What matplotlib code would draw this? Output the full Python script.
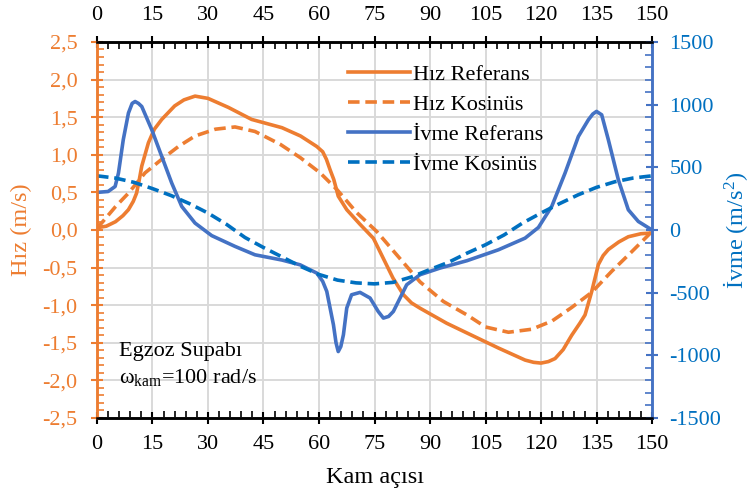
import numpy as np
import matplotlib.pyplot as plt
from matplotlib.ticker import MultipleLocator, FuncFormatter
from matplotlib.lines import Line2D

plt.rcParams['font.family'] = ['Liberation Serif', 'DejaVu Serif']
plt.rcParams['mathtext.fontset'] = 'custom'
plt.rcParams['mathtext.rm'] = 'Liberation Serif'
plt.rcParams['mathtext.it'] = 'Liberation Serif:italic'

ORANGE = '#ED7D31'
BLUE = '#4472C4'
DBLUE = '#0070C0'

# Hız Referans (m/s)
hr_deg = [0, 2.5, 5, 7, 8.5, 9.8, 10.7, 11.4, 12.1, 13.9, 15.5, 17.5, 21, 23.5, 26.5, 30, 35.5,
          41.8, 50, 55, 59.4, 61, 62, 63, 64, 65.2, 67.5, 71, 74.7, 76.5, 80, 82.8, 85, 87.3,
          94.5, 100, 108.5, 115.7, 118, 120, 122, 123.8, 126, 128.3, 130.5, 131.9, 133.7,
          135.5, 136.8, 138.2, 141, 143.6, 147, 150]
hr_val = [0.03, 0.05, 0.11, 0.19, 0.27, 0.38, 0.49, 0.66, 0.85, 1.16, 1.34, 1.47, 1.65, 1.73, 1.78,
          1.75, 1.63, 1.47, 1.36, 1.25, 1.11, 1.04, 0.94, 0.80, 0.67, 0.45, 0.27, 0.08, -0.11, -0.29,
          -0.64, -0.86, -0.97, -1.04, -1.24, -1.37, -1.57, -1.73, -1.76, -1.77, -1.75, -1.71,
          -1.59, -1.40, -1.24, -1.13, -0.82, -0.46, -0.34, -0.26, -0.16, -0.09, -0.05, -0.04]

# Hız Kosinüs (m/s)
hk_deg = [0, 5, 8.5, 13, 17.5, 22, 26.5, 32, 37.3, 42.7, 49.5, 55, 60.3, 64.8, 70.2, 75.6,
          81, 87.3, 93.6, 100, 105, 111.2, 117.5, 123, 128.3, 133.7, 139.1, 144.5, 150]
hk_val = [0.02, 0.31, 0.49, 0.76, 0.94, 1.11, 1.25, 1.34, 1.37, 1.31, 1.14, 0.96, 0.76, 0.54, 0.23, -0.02,
          -0.33, -0.69, -0.95, -1.13, -1.29, -1.36, -1.32, -1.21, -1.03, -0.83, -0.55, -0.29, -0.02]

# İvme Referans (m/s^2)
ir_deg = [0, 3, 4.9, 5.8, 7.1, 8.5, 9.5, 10.3, 11.2, 12.1, 14.8, 17.5, 20.2, 22.9, 26.5, 31,
          37.3, 42.7, 50, 54.9, 59.4, 61, 62.1, 63.9, 64.6, 65.2, 65.9, 66.6, 67.5, 68.8, 71.1,
          73.8, 76, 77.4, 78.8, 80.1, 83.7, 87.3, 92.7, 100, 108.5, 115.7, 119.3, 122.9, 126.5,
          130.1, 132.8, 134, 135, 136.4, 138.2, 140.9, 143.6, 146.3, 150]
ir_val = [300, 307, 347, 454, 720, 933, 1010, 1025, 1010, 985, 800, 587, 374, 188, 55, -45,
          -131, -198, -240, -278, -344, -410, -490, -756, -900, -970, -930, -836, -623, -517, -498,
          -543, -650, -703, -690, -650, -437, -357, -304, -245, -158, -65, 20, 188, 454,
          746, 879, 925, 946, 919, 720, 401, 161, 68, 0]

# İvme Kosinüs (m/s^2)
ik_deg = [0, 5, 10, 15, 20, 25, 30, 35, 40, 45, 50, 55, 60, 65, 70, 75, 80, 85, 90, 95,
          100, 105, 110, 115, 120, 125, 130, 135, 140, 145, 150]
ik_val = [432, 414, 380, 330, 275, 210, 135, 45, -60, -140, -215, -290, -355, -400, -422, -430,
          -418, -375, -315, -258, -185, -118, -40, 55, 135, 210, 280, 340, 385, 415, 432]

fig = plt.figure(figsize=(7.49, 4.95), dpi=100)
ax = fig.add_axes([0.1295, 0.1556, 0.741, 0.7596])
ax2 = ax.twinx()

lw = 2.6
dash = (3.2, 1.6)
ax.plot(hr_deg, hr_val, color=ORANGE, lw=lw)
ax.plot(hk_deg, hk_val, color=ORANGE, lw=lw, dashes=dash)
ax2.plot(ir_deg, ir_val, color=BLUE, lw=lw)
ax2.plot(ik_deg, ik_val, color=DBLUE, lw=lw, dashes=dash)

ax.set_xlim(0, 150)
ax.set_ylim(-2.5, 2.5)
ax2.set_ylim(-1500, 1500)

ax.xaxis.set_major_locator(MultipleLocator(15))
ax.xaxis.set_minor_locator(MultipleLocator(3))
ax.yaxis.set_major_locator(MultipleLocator(0.5))
ax.yaxis.set_minor_locator(MultipleLocator(0.1))
ax2.yaxis.set_major_locator(MultipleLocator(500))
ax2.yaxis.set_minor_locator(MultipleLocator(100))
ax.yaxis.set_major_formatter(FuncFormatter(lambda v, p: f'{v:.1f}'.replace('.', ',').replace('-0,0', '0,0')))
ax2.yaxis.set_major_formatter(FuncFormatter(lambda v, p: f'{v:.0f}'))

ax.grid(True, which='major', color='#D9D9D9', lw=1.4)
ax.set_axisbelow(True)

fs = 16
ax.xaxis.set_ticks_position('both')
ax.tick_params(axis='x', which='major', direction='inout', length=9, width=1.5,
               labelsize=fs, labeltop=True, colors='black', pad=7.5)
ax.tick_params(axis='x', which='minor', direction='in', length=5, width=1.2)
ax.tick_params(axis='y', which='major', direction='inout', length=9, width=1.5,
               labelsize=fs, colors=ORANGE, pad=9.5)
ax.tick_params(axis='y', which='minor', direction='in', length=5, width=1.2, colors=ORANGE)
ax2.tick_params(axis='y', which='major', direction='inout', length=9, width=1.5,
                labelsize=fs, colors=BLUE, labelcolor=DBLUE, pad=8)
ax2.tick_params(axis='y', which='minor', direction='in', length=5, width=1.2, colors=BLUE)

for a in (ax, ax2):
    a.spines['left'].set_color(ORANGE)
    a.spines['right'].set_color(BLUE)
    a.spines['top'].set_color('black')
    a.spines['bottom'].set_color('black')
    for s in a.spines.values():
        s.set_linewidth(1.8)

ax.set_xlabel('Kam açısı', fontsize=17.5, va='center')
ax.xaxis.set_label_coords(0.5, -0.157)
ax.set_ylabel('Hız (m/s)', fontsize=17.5, color=ORANGE, va='center')
ax.yaxis.set_label_coords(-0.137, 0.5)
ax2.set_ylabel('İvme (m/s$^2$)', fontsize=17.5, color=DBLUE, va='center')
ax2.yaxis.set_label_coords(1.150, 0.5)

ax.text(0.04, 0.178, 'Egzoz Supabı', transform=ax.transAxes, fontsize=fs, va='center')
ax.text(0.04, 0.107, r'ω$_{\mathrm{kam}}$=100 rad/s', transform=ax.transAxes, fontsize=fs, va='center')

handles = [Line2D([], [], color=ORANGE, lw=lw),
           Line2D([], [], color=ORANGE, lw=lw, dashes=dash),
           Line2D([], [], color=BLUE, lw=lw),
           Line2D([], [], color=DBLUE, lw=lw, dashes=dash)]
labels = ['Hız Referans', 'Hız Kosinüs', 'İvme Referans', 'İvme Kosinüs']
ax2.legend(handles, labels, loc='upper left', bbox_to_anchor=(0.452, 0.94), frameon=False,
           fontsize=fs, handlelength=2.8, handletextpad=0.15, labelspacing=0.42, borderpad=0,
           borderaxespad=0)

fig.savefig('out.png', dpi=100)
